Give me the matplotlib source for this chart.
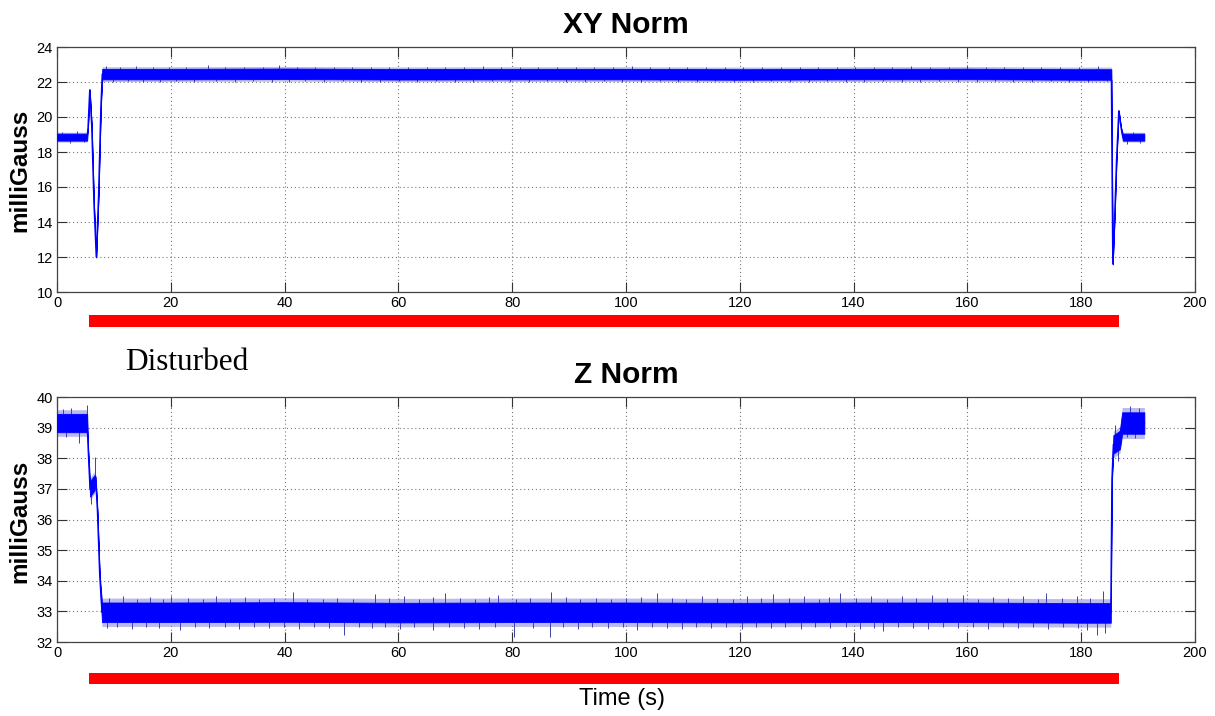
import matplotlib
matplotlib.use("Agg")
import numpy as np
import matplotlib.pyplot as plt
from matplotlib.patches import Rectangle
from matplotlib.transforms import blended_transform_factory

# ---------------- data ----------------
# XY norm: knot times, centre value, half-width of the noise band
xy_t = [0, 5.3, 5.45, 5.75, 6.1, 6.5, 6.9, 7.3, 7.7, 7.95, 20, 40, 60, 80,
        100, 120, 140, 160, 180, 185.3, 185.35, 185.55, 185.9, 186.2, 186.6,
        187.0, 187.3, 191.1]
xy_c = [18.85, 18.85, 19.4, 21.55, 19.5, 15.0, 12.0, 15.5, 20.5, 22.45, 22.45,
        22.47, 22.44, 22.45, 22.45, 22.43, 22.45, 22.46, 22.43, 22.43, 20.0,
        11.6, 14.5, 17.5, 20.35, 19.4, 18.85, 18.85]
xy_s = [0.2, 0.2, 0.03, 0.03, 0.03, 0.03, 0.03, 0.03, 0.03, 0.3, 0.3, 0.3,
        0.3, 0.3, 0.3, 0.3, 0.3, 0.3, 0.3, 0.3, 0.03, 0.03, 0.03, 0.03, 0.03,
        0.03, 0.2, 0.2]
# XY noise spikes (time, tip value)
xy_spk_t = [0.8, 2.2, 3.6, 4.7, 8.6, 9.8, 11.1, 12.5, 13.9, 15.2, 16.8, 18.1,
            19.6, 21.0, 22.7, 24.1, 26.5, 28.0, 29.6, 31.2, 32.9, 34.5, 36.2,
            37.7, 39.1, 40.8, 42.2, 43.6, 45.3, 47.0, 48.6, 50.2, 51.9, 53.5,
            55.1, 56.8, 58.4, 60.1, 61.7, 63.3, 65.0, 66.6, 68.2, 69.9, 71.5,
            73.1, 74.8, 76.4, 78.1, 79.7, 81.3, 83.0, 84.6, 86.2, 87.9, 89.5,
            91.2, 92.8, 94.4, 96.1, 97.7, 99.3, 101.0, 102.6, 104.3, 105.9,
            107.5, 109.2, 110.8, 112.4, 114.1, 115.7, 117.4, 119.0, 120.6,
            122.3, 123.9, 125.5, 127.2, 128.8, 130.5, 132.1, 133.7, 135.4,
            137.0, 138.6, 140.3, 141.9, 143.6, 145.2, 146.8, 148.5, 150.1,
            151.7, 153.4, 155.0, 156.7, 158.3, 159.9, 161.6, 163.2, 164.8,
            166.5, 168.1, 169.8, 171.4, 173.0, 174.7, 176.3, 177.9, 179.6,
            181.2, 182.9, 184.5, 188.0, 189.1, 190.3]
xy_spk_v = [19.15, 18.5, 19.2, 18.55, 22.9, 22.0, 22.85, 22.05, 22.92, 22.02,
            22.85, 22.0, 22.88, 22.05, 22.86, 21.98, 22.95, 22.03, 22.86,
            22.0, 22.88, 22.04, 22.85, 22.02, 23.0, 22.0, 22.87, 22.04, 22.85,
            21.98, 22.86, 22.05, 22.88, 22.02, 22.85, 22.0, 22.87, 22.03,
            22.86, 22.0, 22.85, 22.05, 22.88, 22.02, 22.86, 22.0, 22.9, 22.04,
            22.85, 22.02, 22.86, 22.0, 22.88, 22.05, 22.85, 22.02, 22.87,
            22.0, 22.86, 22.04, 22.85, 22.02, 22.9, 22.0, 22.86, 22.05, 22.88,
            22.02, 22.85, 22.0, 22.87, 22.04, 22.86, 22.02, 22.85, 22.0, 22.88,
            22.05, 22.86, 22.02, 22.85, 22.0, 22.87, 22.04, 22.86, 22.02,
            22.85, 22.0, 22.88, 22.05, 22.86, 22.02, 22.92, 22.0, 22.87,
            22.04, 22.86, 22.02, 22.96, 22.0, 22.88, 22.05, 22.86, 22.02,
            22.85, 22.0, 22.87, 22.04, 22.86, 22.02, 22.85, 22.0, 22.9, 22.05,
            18.45, 19.15, 18.5]

# Z norm: knot times, centre value, half-width of the noise band
z_t = [0, 5.3, 5.5, 5.8, 6.2, 6.6, 6.8, 7.1, 7.5, 7.9, 20, 40, 60, 80, 100,
       120, 140, 160, 180, 185.2, 185.4, 185.65, 186.8, 187.2, 191.1]
z_c = [39.15, 39.15, 38.2, 37.0, 37.1, 37.2, 37.3, 36.3, 34.2, 32.97, 32.97,
       32.98, 32.96, 32.97, 32.97, 32.96, 32.97, 32.97, 32.95, 32.95, 37.3,
       38.45, 38.6, 39.15, 39.15]
z_s = [0.3, 0.3, 0.03, 0.25, 0.25, 0.25, 0.1, 0.03, 0.03, 0.32, 0.32, 0.32,
       0.32, 0.32, 0.32, 0.32, 0.32, 0.32, 0.32, 0.32, 0.03, 0.3, 0.3, 0.35,
       0.35]
# Z noise spikes (time, tip value)
z_up_t = [1.0, 2.5, 5.2, 6.65, 9.2, 11.6, 14.0, 16.3, 18.7, 20.1, 23.0, 25.6,
          27.9, 30.4, 33.1, 35.5, 38.2, 41.5, 44.0, 46.7, 49.2, 52.1, 55.9,
          58.4, 61.0, 63.6, 66.0, 68.2, 70.9, 73.5, 75.9, 77.5, 80.6, 83.1,
          86.9, 89.4, 92.0, 94.7, 97.3, 100.0, 102.6, 105.4, 108.0, 110.5,
          113.3, 116.0, 118.8, 121.2, 123.7, 125.9, 128.6, 131.2, 133.9,
          135.6, 137.6, 140.4, 143.1, 145.8, 148.5, 151.0, 153.7, 156.4,
          159.2, 161.9, 164.5, 167.1, 169.8, 172.4, 173.9, 176.7, 179.3,
          181.5, 183.8, 186.0, 188.5, 190.2]
z_up_v = [39.6, 39.65, 39.75, 38.05, 33.45, 33.5, 33.42, 33.48, 33.4, 33.5,
          33.45, 33.4, 33.5, 33.42, 33.47, 33.4, 33.45, 33.62, 33.42, 33.4,
          33.45, 33.4, 33.58, 33.45, 33.5, 33.42, 33.48, 33.6, 33.45, 33.42,
          33.48, 33.52, 33.42, 33.45, 33.62, 33.48, 33.42, 33.45, 33.42,
          33.45, 33.48, 33.6, 33.45, 33.42, 33.5, 33.45, 33.42, 33.5, 33.45,
          33.58, 33.45, 33.5, 33.42, 33.48, 33.6, 33.45, 33.5, 33.42, 33.5,
          33.45, 33.55, 33.45, 33.52, 33.42, 33.48, 33.45, 33.5, 33.42, 33.6,
          33.45, 33.5, 33.45, 33.66, 39.1, 39.7, 39.65]
z_dn_t = [1.6, 3.9, 6.0, 8.8, 10.5, 13.2, 15.6, 17.9, 21.6, 24.3, 26.8, 29.5,
          32.0, 34.6, 37.3, 39.9, 42.6, 45.1, 47.8, 50.4, 53.0, 55.3, 57.7,
          60.2, 62.7, 66.1, 68.9, 71.6, 74.2, 77.0, 80.3, 83.7, 86.6, 89.0,
          91.5, 94.1, 96.8, 99.4, 101.9, 104.5, 107.2, 109.8, 112.3, 115.0,
          117.6, 120.3, 122.9, 125.4, 128.0, 130.7, 133.3, 135.9, 138.6,
          141.2, 143.6, 145.2, 147.8, 150.5, 153.1, 155.7, 158.4, 161.0,
          163.6, 166.3, 168.9, 171.5, 174.2, 176.8, 179.4, 181.0, 182.7,
          184.1, 186.4, 188.0, 189.5]
z_dn_v = [38.7, 38.5, 36.5, 32.45, 32.5, 32.42, 32.48, 32.45, 32.4, 32.5,
          32.45, 32.48, 32.42, 32.5, 32.45, 32.48, 32.42, 32.5, 32.45, 32.24,
          32.48, 32.45, 32.5, 32.42, 32.48, 32.4, 32.48, 32.45, 32.42, 32.48,
          32.15, 32.45, 32.15, 32.48, 32.42, 32.5, 32.45, 32.48, 32.38, 32.48,
          32.45, 32.42, 32.5, 32.45, 32.48, 32.42, 32.5, 32.45, 32.48, 32.42,
          32.5, 32.45, 32.48, 32.42, 32.45, 32.35, 32.48, 32.45, 32.42, 32.5,
          32.45, 32.48, 32.42, 32.5, 32.45, 32.48, 32.42, 32.5, 32.45, 32.4,
          32.22, 32.3, 37.9, 38.7, 38.65]

disturbed_start, disturbed_end = 5.7, 186.6

titles = ["XY Norm", "Z Norm"]
ylims = [(10, 24), (32, 40)]
yticks = [[10, 12, 14, 16, 18, 20, 22, 24], [32, 33, 34, 35, 36, 37, 38, 39, 40]]
xticks = [0, 20, 40, 60, 80, 100, 120, 140, 160, 180, 200]

# ---------------- plotting ----------------
SANS = ["Liberation Sans", "DejaVu Sans"]
SERIF = ["Liberation Serif", "DejaVu Serif"]
BLUE = "#0000ff"
SPIKE = "#4040b0"

fig = plt.figure(figsize=(12.15, 7.16), dpi=100)
ax1 = fig.add_axes([57 / 1215, 1 - 292 / 716, 1138 / 1215, 245 / 716])
ax2 = fig.add_axes([57 / 1215, 1 - 642 / 716, 1138 / 1215, 245 / 716])


def band(ax, t, c, s, fringe):
    lo = [ci - si for ci, si in zip(c, s)]
    hi = [ci + si for ci, si in zip(c, s)]
    flo = [ci - si * fringe for ci, si in zip(c, s)]
    fhi = [ci + si * fringe for ci, si in zip(c, s)]
    ax.fill_between(t, flo, fhi, color="#6a6ad8", lw=0, alpha=0.45, zorder=2)
    ax.fill_between(t, lo, hi, color=BLUE, lw=0.6, zorder=3)
    ax.plot(t, c, color=BLUE, lw=1.0, zorder=3)


def spikes(ax, ts, vs, t, c):
    base = np.interp(ts, t, c)
    ax.vlines(ts, base, vs, color=SPIKE, lw=0.7, zorder=2.5)


band(ax1, xy_t, xy_c, xy_s, 1.4)
spikes(ax1, xy_spk_t, xy_spk_v, xy_t, xy_c)
band(ax2, z_t, z_c, z_s, 1.45)
spikes(ax2, z_up_t, z_up_v, z_t, z_c)
spikes(ax2, z_dn_t, z_dn_v, z_t, z_c)

bar_y = [(-0.143, 0.049), (-0.171, 0.046)]
for ax, title, yl, yt, (by, bh) in zip([ax1, ax2], titles, ylims, yticks, bar_y):
    ax.set_xlim(0, 200)
    ax.set_ylim(*yl)
    ax.set_xticks(xticks)
    ax.set_yticks(yt)
    ax.set_xticklabels([str(v) for v in xticks], fontfamily=SANS, fontsize=10.5)
    ax.set_yticklabels([str(v) for v in yt], fontfamily=SANS, fontsize=10.5)
    ax.tick_params(direction="in", length=7.5, width=0.8, top=True, right=True,
                   colors="#333333", labelcolor="black", pad=3)
    ax.grid(True, color="#777777", linestyle=(0, (1, 2.5)), lw=0.8)
    ax.set_axisbelow(True)
    for sp in ax.spines.values():
        sp.set_color("#444444")
        sp.set_linewidth(0.9)
    ax.set_title(title, fontfamily=SANS, fontsize=21.5, fontweight="bold", pad=10)
    tr = blended_transform_factory(ax.transData, ax.transAxes)
    ax.add_patch(Rectangle((disturbed_start, by), disturbed_end - disturbed_start,
                           bh, transform=tr, clip_on=False, color="#ff0000",
                           lw=0))

fig.text(19.5 / 1215, 1 - 170 / 716, "milliGauss", rotation=90, ha="center",
         va="center", fontfamily=SANS, fontsize=17.5, fontweight="bold")
fig.text(19.5 / 1215, 1 - 521 / 716, "milliGauss", rotation=90, ha="center",
         va="center", fontfamily=SANS, fontsize=17.5, fontweight="bold")
fig.text(622 / 1215, 1 - 699 / 716, "Time (s)", ha="center", va="center",
         fontfamily=SANS, fontsize=17)
fig.text(125 / 1215, 1 - 370 / 716, "Disturbed", ha="left", va="baseline",
         fontfamily=SERIF, fontsize=22.5)

fig.savefig("out.png", dpi=100)
